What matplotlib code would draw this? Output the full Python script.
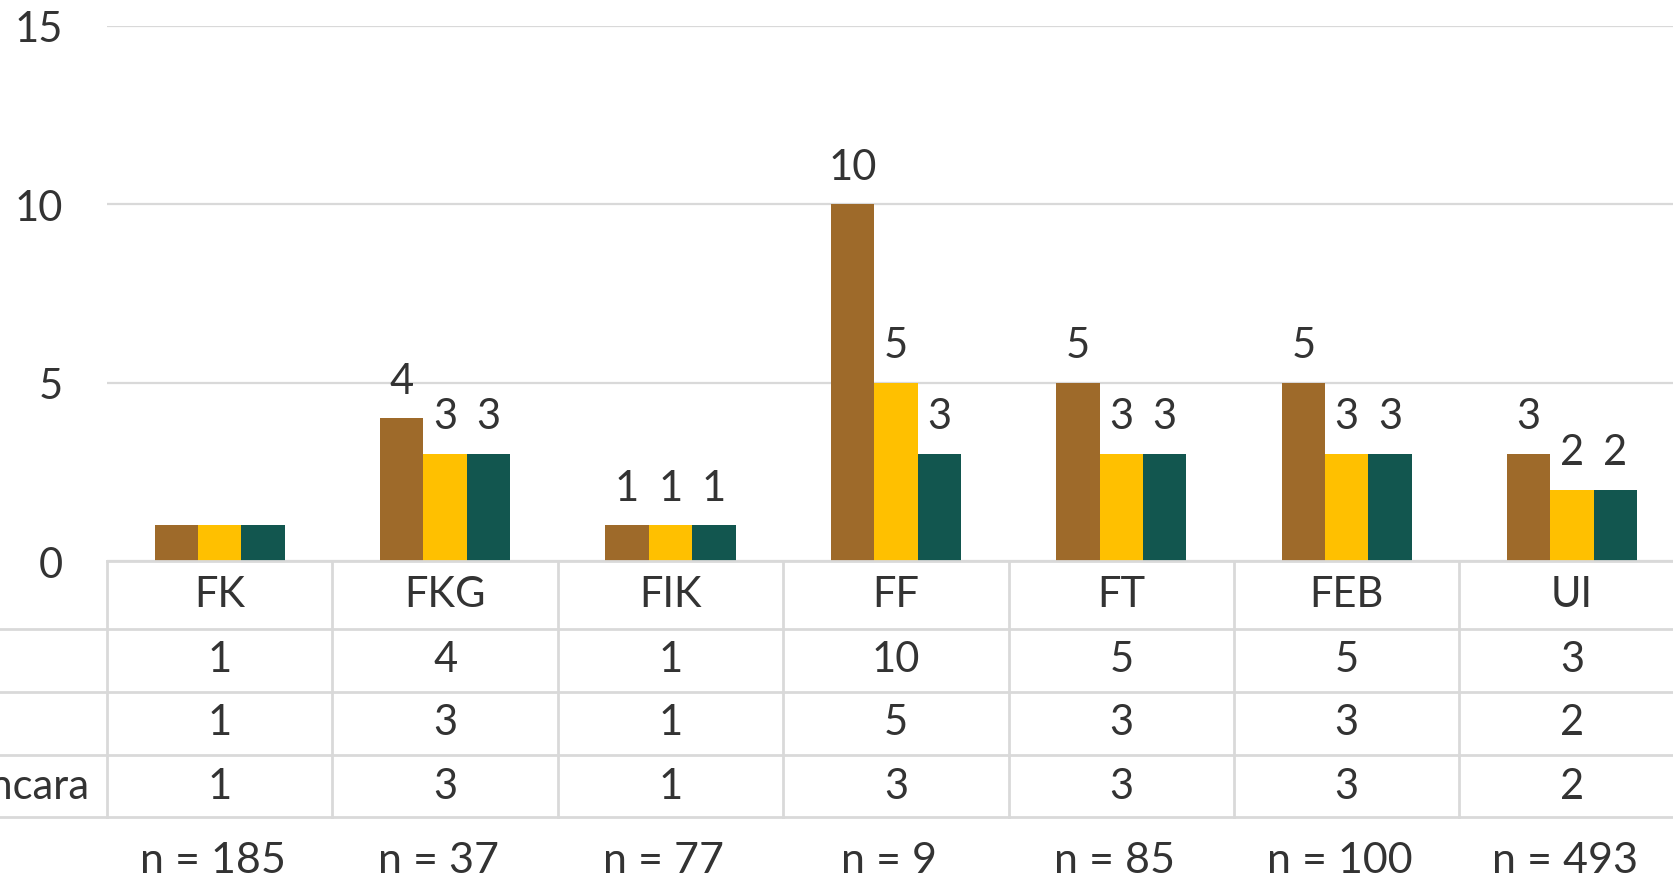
import matplotlib
matplotlib.use("Agg")
import matplotlib.pyplot as plt
import matplotlib.transforms as mtransforms
from matplotlib.lines import Line2D
import numpy as np

categories = ["FK", "FKG", "FIK", "FF", "FT", "FEB", "UI"]
series_names = ["", "", "Wawancara"]
series1 = [1, 4, 1, 10, 5, 5, 3]
series2 = [1, 3, 1, 5, 3, 3, 2]
series3 = [1, 3, 1, 3, 3, 3, 2]
n_values = [185, 37, 77, 9, 85, 100, 493]
show_labels = [False, True, True, True, True, True, True]
yticks = [0, 5, 10, 15]

colors = ["#9E6A2A", "#FFC000", "#12564F"]
text_color = "#333333"
grid_color = "#D9D9D9"
FS = 30

plt.rcParams['font.family'] = ['Lato', 'DejaVu Sans']

W, H = 1674, 879
fig = plt.figure(figsize=(W / 100, H / 100), dpi=100)
ax_left, ax_bottom_px, ax_top_px = 107, 562, 27
cell_px = 225.4
ax = fig.add_axes([ax_left / W, (H - ax_bottom_px) / H, 7 * cell_px / W,
                   (ax_bottom_px - ax_top_px) / H])

x = np.arange(len(categories))
bw = 0.1927
series = [series1, series2, series3]
for k, (vals, col) in enumerate(zip(series, colors)):
    xs = x + (k - 1) * bw
    ax.bar(xs, vals, width=bw, color=col, linewidth=0, zorder=3)
    for xi, v, show in zip(xs, vals, show_labels):
        if show:
            ax.annotate(str(v), (xi, v), xytext=(0, 27), textcoords="offset points",
                        ha="center", va="center", fontsize=FS, color=text_color)

ax.set_xlim(-0.5, len(categories) - 0.5)
ax.set_ylim(0, 15)
ax.set_yticks(yticks)
ax.set_yticklabels([str(t) for t in yticks])
ax.tick_params(axis="y", length=0, pad=32, labelsize=FS, labelcolor=text_color)
ax.set_xticks([])
for s in ax.spines.values():
    s.set_visible(False)
ax.yaxis.grid(True, color=grid_color, linewidth=1.6, zorder=0)
ax.set_axisbelow(True)

def fy(ypx):
    return (H - ypx) / H

blend = mtransforms.blended_transform_factory(ax.transData, fig.transFigure)

# table lines
row_lines = [630, 693, 756, 818]
for yl in row_lines:
    fig.add_artist(Line2D([0, 1], [fy(yl), fy(yl)], transform=fig.transFigure,
                          color=grid_color, linewidth=2))
fig.add_artist(Line2D([ax_left / W, 1], [fy(562), fy(562)], transform=fig.transFigure,
                      color=grid_color, linewidth=2))
for i in range(len(categories) + 1):
    fig.add_artist(Line2D([i - 0.5, i - 0.5], [fy(562), fy(818)], transform=blend,
                          color=grid_color, linewidth=2, clip_on=False))

# table text
row_centers = [595, 660, 723, 787]
for i, c in enumerate(categories):
    fig.text(i, fy(row_centers[0]), c, transform=blend, ha="center", va="center",
             fontsize=FS, color=text_color)
    for r, vals in enumerate(series):
        fig.text(i, fy(row_centers[r + 1]), str(vals[i]), transform=blend,
                 ha="center", va="center", fontsize=FS, color=text_color)
    fig.text(i - 0.03, fy(861), f"n = {n_values[i]}", transform=blend,
             ha="center", va="center", fontsize=FS + 1, color=text_color)

for r, name in enumerate(series_names):
    if name:
        fig.text(89 / W, fy(row_centers[r + 1]), name, ha="right", va="center",
                 fontsize=FS, color=text_color)

fig.savefig("out.png", dpi=100)
